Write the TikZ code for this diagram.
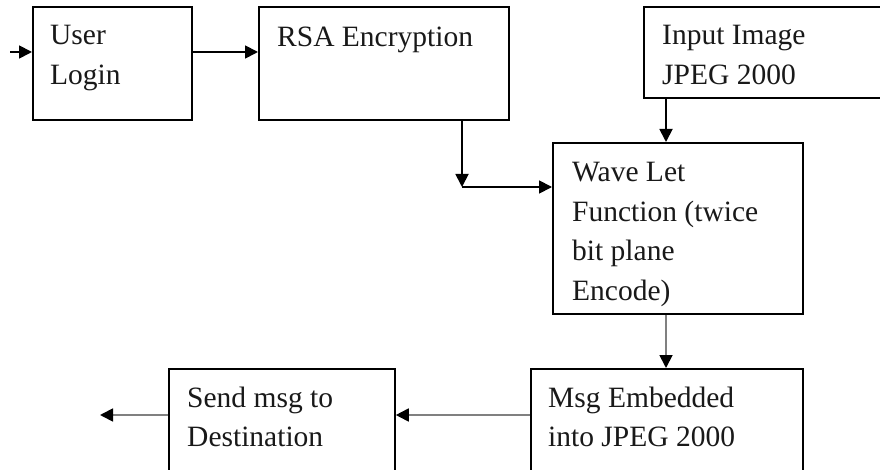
\documentclass[tikz,border=0pt]{standalone}
\usepackage{fontspec}
\setmainfont{Liberation Serif}
\usetikzlibrary{arrows.meta}

\tikzset{
  box/.style={draw=black, line width=1.8pt, inner sep=0pt, anchor=north west},
  txt/.style={anchor=base west, inner sep=0pt, font=\fontsize{29.5}{39.5}\selectfont, text=black!90},
  link/.style={line width=1.8pt, draw=black,
    -{Triangle[length=13pt, width=13pt, color=black]}},
  glink/.style={link, draw=black!50},
}
\newcommand{\lines}[1]{\parbox[t]{8cm}{\raggedright #1}}

\begin{document}
\begin{tikzpicture}[x=1pt, y=-1pt]
  \useasboundingbox (0,0) rectangle (880,470);
  \clip (0,0) rectangle (880,470);
  \fill[white] (0,0) rectangle (880,470);

  % process boxes
  \node[box, minimum width=159pt, minimum height=113pt] (login) at (32,6) {};
  \node[box, minimum width=250pt, minimum height=113pt] (rsa)   at (258,6) {};
  \node[box, minimum width=270pt, minimum height=91pt]  (input) at (643,6) {};
  \node[box, minimum width=250pt, minimum height=171pt] (wave)  at (552,142) {};
  \node[box, minimum width=272pt, minimum height=150pt] (msg)   at (530,368) {};
  \node[box, minimum width=226pt, minimum height=150pt] (send)  at (168,368) {};

  % box captions
  \node[txt] (tlogin) at (50,45)  {\lines{User\\Login}};
  \node[txt] (trsa)   at (277,47) {RSA Encryption};
  \node[txt] (tinput) at (662,45) {\lines{Input Image\\JPEG 2000}};
  \node[txt] (twave)  at (572,182) {\lines{Wave Let\\Function (twice\\bit plane\\Encode)}};
  \node[txt] (tmsg)   at (548,407) {\lines{Msg Embedded\\into JPEG 2000}};
  \node[txt] (tsend)  at (187,407) {\lines{Send msg to\\Destination}};

  % routing points
  \coordinate (start)  at (10,52);
  \coordinate (corner) at (462,187);
  \coordinate (col)    at (666,120);
  \coordinate (row)    at (460,415);
  \coordinate (finish) at (100,415);

  % connectors
  \draw[link] (start) -- (start -| login.west);
  \draw[link] (login.east |- start) -- (rsa.west |- start);
  \draw[link] (rsa.south -| corner) -- (corner);
  \draw[link] (corner) -- (corner -| wave.west);
  \draw[link] (input.south -| col) -- (wave.north -| col);
  \draw[glink] (wave.south -| col) -- (msg.north -| col);
  \draw[glink] (msg.west |- row) -- (send.east |- row);
  \draw[glink] (send.west |- row) -- (finish);
\end{tikzpicture}
\end{document}
